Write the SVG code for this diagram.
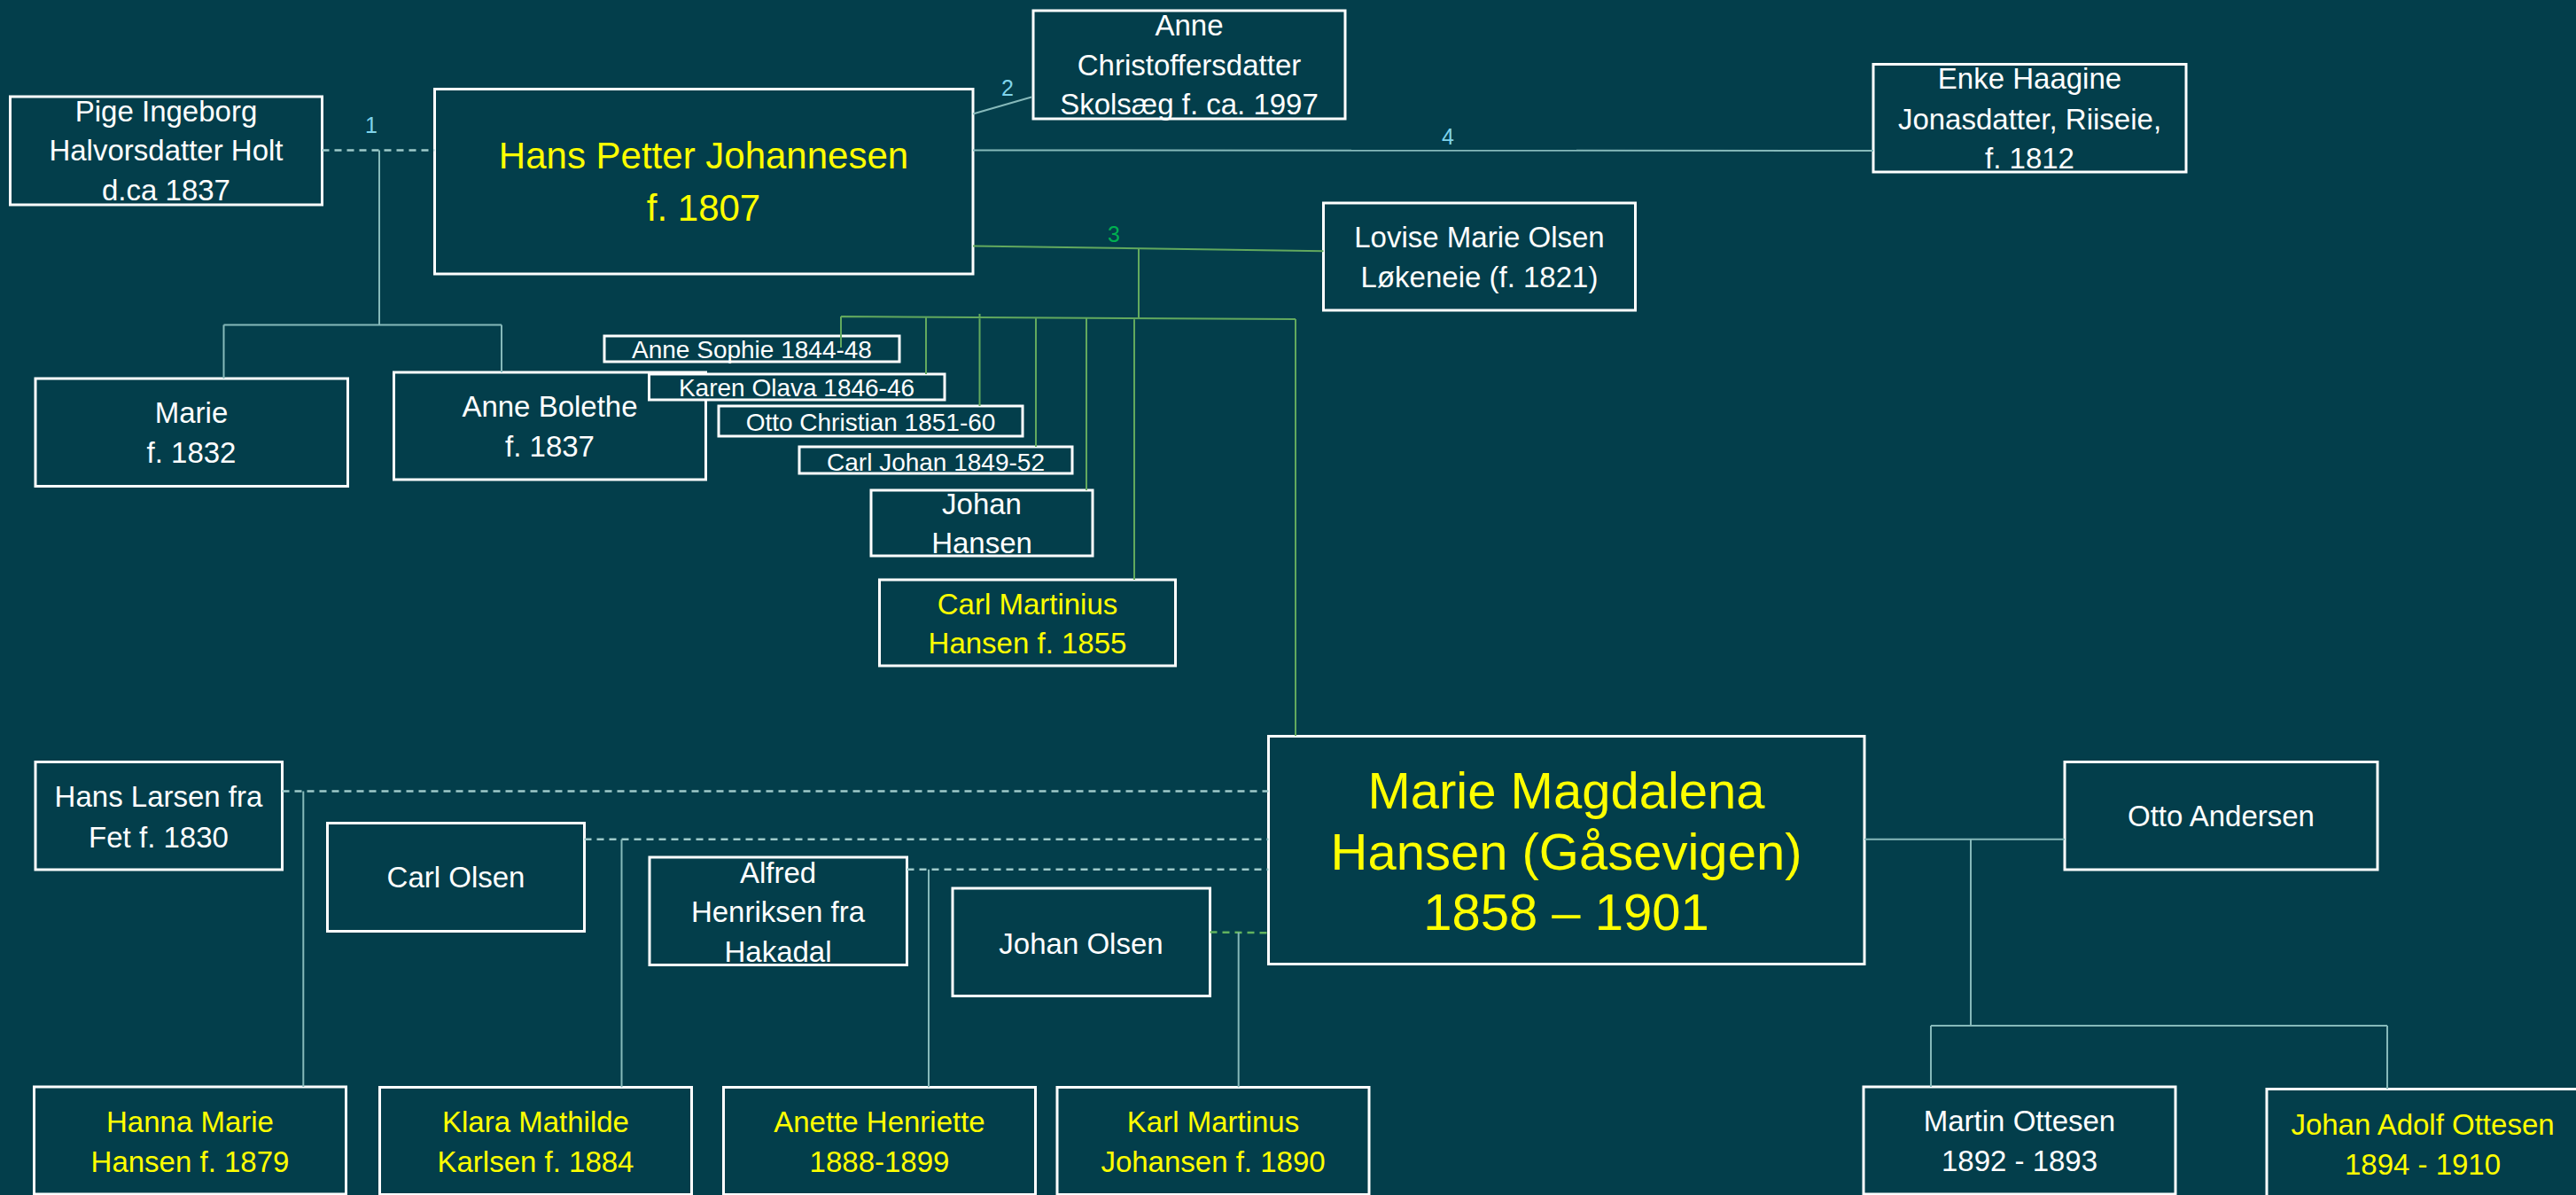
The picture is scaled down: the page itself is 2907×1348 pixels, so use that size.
<svg xmlns="http://www.w3.org/2000/svg" width="2907" height="1348" viewBox="0 0 2907 1348">
<style>
.bg{fill:#033e4b}
.box{fill:#033e4b;stroke:#ffffff;stroke-width:3}
.t{font-family:"Liberation Sans",Arial,sans-serif;font-size:33px;fill:#ffffff;text-anchor:middle}
.y{fill:#ffff00}
.s{font-size:28px}
.big{font-size:42px}
.huge{font-size:58px}
.c{fill:none;stroke:#86b9ba;stroke-width:2}
.d{fill:none;stroke:#9fcaca;stroke-width:2.5;stroke-dasharray:8 6}
.g{fill:none;stroke:#62a95e;stroke-width:2}
.gd{fill:none;stroke:#62b25e;stroke-width:2.5;stroke-dasharray:8 6}
.lb{font-family:"Liberation Sans",Arial,sans-serif;font-size:25px;fill:#7fd3ea;text-anchor:middle}
.lg{fill:#00b050}
</style>
<rect class="bg" x="0" y="0" width="2907" height="1348"/>
<g id="nodes">
<g id="pige"><rect class="box" x="11.5" y="109" width="352" height="122"/>
<text class="t" x="187.5" y="137">Pige Ingeborg</text><text class="t" x="187.5" y="181">Halvorsdatter Holt</text><text class="t" x="187.5" y="226">d.ca 1837</text></g>
<g id="hanspetter"><rect class="box" x="490.5" y="100.5" width="607.5" height="208.5"/>
<text class="t y big" x="794" y="190">Hans Petter Johannesen</text><text class="t y big" x="794" y="249">f. 1807</text></g>
<g id="annec"><rect class="box" x="1166" y="12" width="352" height="122"/>
<text class="t" x="1342" y="40">Anne</text><text class="t" x="1342" y="85">Christoffersdatter</text><text class="t" x="1342" y="129">Skolsæg f. ca. 1997</text></g>
<g id="enke"><rect class="box" x="2114" y="72.5" width="353" height="121.5"/>
<text class="t" x="2290.5" y="100">Enke Haagine</text><text class="t" x="2290.5" y="146">Jonasdatter, Riiseie,</text><text class="t" x="2290.5" y="190">f. 1812</text></g>
<g id="lovise"><rect class="box" x="1493.5" y="229" width="352" height="121"/>
<text class="t" x="1669.5" y="279">Lovise Marie Olsen</text><text class="t" x="1669.5" y="324">Løkeneie (f. 1821)</text></g>
<g id="marie"><rect class="box" x="40" y="427" width="352.5" height="121.5"/>
<text class="t" x="216" y="476.5">Marie</text><text class="t" x="216" y="522">f. 1832</text></g>
<g id="annebolethe"><rect class="box" x="444.5" y="420" width="352" height="121"/>
<text class="t" x="620.5" y="470">Anne Bolethe</text><text class="t" x="620.5" y="515">f. 1837</text></g>
<g id="annesophie"><rect class="box" x="682" y="379" width="333" height="29"/>
<text class="t s" x="848.5" y="404">Anne Sophie 1844-48</text></g>
<g id="karen"><rect class="box" x="732.5" y="422" width="333.5" height="29"/>
<text class="t s" x="899" y="447">Karen Olava 1846-46</text></g>
<g id="ottochristian"><rect class="box" x="811" y="458" width="343" height="34"/>
<text class="t s" x="982.5" y="486">Otto Christian 1851-60</text></g>
<g id="carljohan"><rect class="box" x="902" y="504" width="308" height="30"/>
<text class="t s" x="1056" y="531">Carl Johan 1849-52</text></g>
<g id="johanhansen"><rect class="box" x="983" y="553" width="250" height="74"/>
<text class="t" x="1108" y="580">Johan</text><text class="t" x="1108" y="624">Hansen</text></g>
<g id="carlmartinius"><rect class="box" x="992.5" y="654" width="334" height="97"/>
<text class="t y" x="1159.5" y="693">Carl Martinius</text><text class="t y" x="1159.5" y="737">Hansen f. 1855</text></g>
<g id="hanslarsen"><rect class="box" x="40" y="859.5" width="278.5" height="121.5"/>
<text class="t" x="179" y="910">Hans Larsen fra</text><text class="t" x="179" y="955.5">Fet f. 1830</text></g>
<g id="carlolsen"><rect class="box" x="369.5" y="928.5" width="290" height="122"/>
<text class="t" x="514.5" y="1001">Carl Olsen</text></g>
<g id="alfred"><rect class="box" x="733" y="967" width="290.5" height="121.5"/>
<text class="t" x="878" y="996">Alfred</text><text class="t" x="878" y="1040">Henriksen fra</text><text class="t" x="878" y="1085">Hakadal</text></g>
<g id="johanolsen"><rect class="box" x="1075" y="1002" width="290.5" height="121.5"/>
<text class="t" x="1220" y="1076">Johan Olsen</text></g>
<g id="mariemagdalena"><rect class="box" x="1431.5" y="830.5" width="672.5" height="257"/>
<text class="t y huge" x="1767.5" y="912">Marie Magdalena</text><text class="t y huge" x="1767.5" y="981">Hansen (Gåsevigen)</text><text class="t y huge" x="1767.5" y="1049">1858 – 1901</text></g>
<g id="ottoandersen"><rect class="box" x="2330" y="859.5" width="353" height="121.5"/>
<text class="t" x="2506.5" y="932">Otto Andersen</text></g>
<g id="hanna"><rect class="box" x="38.5" y="1226" width="352" height="121"/>
<text class="t y" x="214.5" y="1277">Hanna Marie</text><text class="t y" x="214.5" y="1322">Hansen f. 1879</text></g>
<g id="klara"><rect class="box" x="428.5" y="1226.5" width="352" height="121"/>
<text class="t y" x="604.5" y="1277">Klara Mathilde</text><text class="t y" x="604.5" y="1322">Karlsen f. 1884</text></g>
<g id="anette"><rect class="box" x="816.5" y="1226.5" width="352" height="121"/>
<text class="t y" x="992.5" y="1277">Anette Henriette</text><text class="t y" x="992.5" y="1322">1888-1899</text></g>
<g id="karlmartinus"><rect class="box" x="1193" y="1226.5" width="352" height="121"/>
<text class="t y" x="1369" y="1277">Karl Martinus</text><text class="t y" x="1369" y="1322">Johansen f. 1890</text></g>
<g id="martin"><rect class="box" x="2103" y="1226" width="352" height="121"/>
<text class="t" x="2279" y="1276">Martin Ottesen</text><text class="t" x="2279" y="1321">1892 - 1893</text></g>
<g id="johanadolf"><rect class="box" x="2558" y="1228.5" width="352" height="121"/>
<text class="t y" x="2734" y="1280">Johan Adolf Ottesen</text><text class="t y" x="2734" y="1325">1894 - 1910</text></g>
</g>
<g id="connectors">
<path class="d" d="M363.5 169.5H490.5"/>
<path class="c" d="M428 169.5V366.5M252.5 366.5H566M252.5 366.5V427M566 366.5V420"/>
<path class="c" d="M1098 128.5L1164 109.5"/>
<path class="c" d="M1098 169.5L2114 170"/>
<path class="g" d="M1098 277.5L1493.5 283.3"/>
<path class="g" d="M1285 280V359M949 357L1462 360M949 357V392M1045 358V422M1105.5 354V458M1169 357.5V504M1226 358.5V553M1280 359V654M1462 360V830"/>
<path class="d" d="M318.5 892.5H1431.5"/>
<path class="c" d="M342.3 892.5V1226"/>
<path class="d" d="M659.5 946.8H1431.5"/>
<path class="c" d="M701.5 946.8V1226.5"/>
<path class="d" d="M1023.5 980.7H1431.5"/>
<path class="c" d="M1048 980.7V1226.5"/>
<path class="gd" d="M1365.5 1051.5L1431.5 1052.3"/>
<path class="c" d="M1397.7 1051.7V1226.5"/>
<path class="c" d="M2104 946.8H2330M2224 946.8V1157M2179 1157H2694M2179 1157V1226M2694 1157V1228.5"/>
<text class="lb" x="419" y="150">1</text>
<text class="lb" x="1137" y="108">2</text>
<text class="lb lg" x="1257" y="273">3</text>
<text class="lb" x="1634" y="163">4</text>
</g>
</svg>
